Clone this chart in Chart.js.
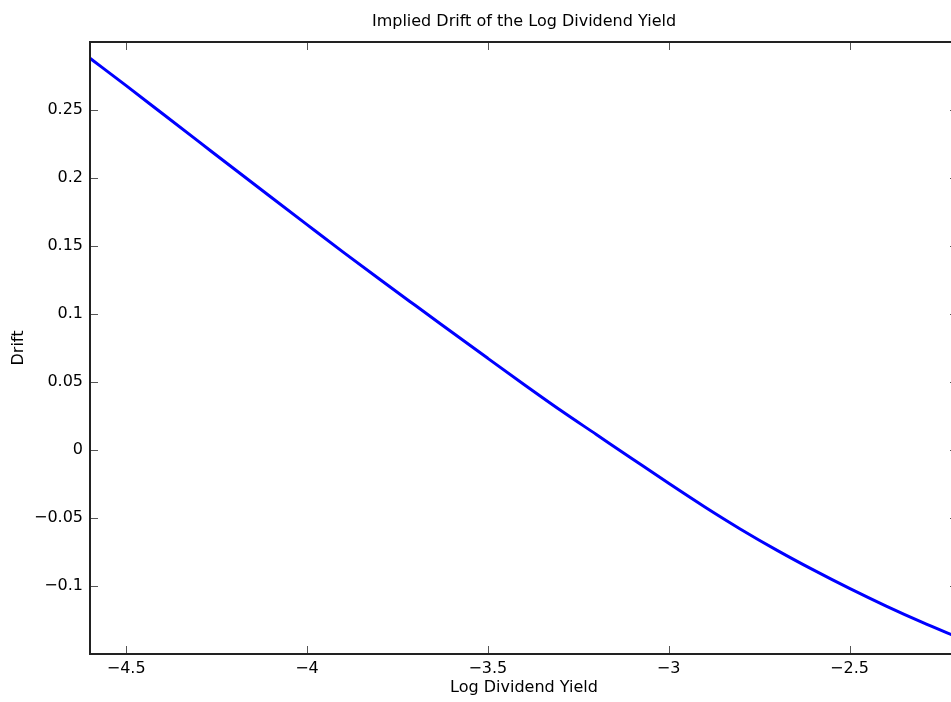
<!DOCTYPE html>
<html>
<head>
<meta charset="utf-8">
<script src="https://cdn.jsdelivr.net/npm/chart.js@4.4.1/dist/chart.umd.min.js"></script>
<style>
  html, body { margin: 0; padding: 0; background: #fff; overflow: hidden; }
  #wrap { width: 1048px; height: 702px; }
</style>
</head>
<body>
<div id="wrap"><canvas id="driftChart"></canvas></div>
<script>
// log dividend yield (x) and implied drift (y)
const xValues = [-4.6, -4.5, -4.4, -4.3, -4.2, -4.1, -4.0, -3.9, -3.8, -3.7, -3.6, -3.5, -3.4,
                 -3.3, -3.2, -3.1, -3.0, -2.9, -2.8, -2.7, -2.6, -2.5, -2.4, -2.3, -2.2];
const driftValues = [0.2880, 0.2679, 0.2474, 0.2269, 0.2064, 0.1860, 0.1657, 0.1455, 0.1257, 0.1062, 0.0868,
                     0.0674, 0.0482, 0.0294, 0.0114, -0.0066, -0.0245, -0.0419, -0.0584, -0.0738, -0.0882,
                     -0.1018, -0.1146, -0.1266, -0.1378];
const xTicks = [-4.5, -4, -3.5, -3, -2.5];
const yTicks = [-0.1, -0.05, 0, 0.05, 0.1, 0.15, 0.2, 0.25];

const FONT = { family: "'DejaVu Sans', 'Liberation Sans', sans-serif", size: 16 };

function fmt(v) {
    var s = String(Math.round(v * 100) / 100);
    return s.replace('-', '\u2212');
}

// matlab style box with inward tick marks
const matlabBox = {
    id: 'matlabBox',
    afterDatasetsDraw: function (chart) {
        var c = chart.ctx, a = chart.chartArea;
        var xs = chart.scales.x, ys = chart.scales.y;
        c.save();
        c.strokeStyle = '#555';
        c.lineWidth = 1;
        c.beginPath();
        xTicks.forEach(function (v) {
            var px = Math.round(xs.getPixelForValue(v)) + 0.5;
            c.moveTo(px, a.bottom); c.lineTo(px, a.bottom - 8);
            c.moveTo(px, a.top); c.lineTo(px, a.top + 8);
        });
        yTicks.forEach(function (v) {
            var py = Math.round(ys.getPixelForValue(v)) + 0.5;
            c.moveTo(a.left, py); c.lineTo(a.left + 8, py);
            c.moveTo(a.right, py); c.lineTo(a.right - 8, py);
        });
        c.stroke();
        c.strokeStyle = '#222';
        c.lineWidth = 2;
        c.strokeRect(a.left, a.top, a.right - a.left, a.bottom - a.top);
        c.restore();
    }
};

document.addEventListener('DOMContentLoaded', function () {
    var ctx = document.getElementById('driftChart').getContext('2d');
    new Chart(ctx, {
        type: 'line',
        data: {
            datasets: [{
                data: xValues.map(function (x, i) { return { x: x, y: driftValues[i] }; }),
                borderColor: '#0000ff',
                borderWidth: 3,
                pointRadius: 0,
                fill: false,
                cubicInterpolationMode: 'monotone'
            }]
        },
        options: {
            responsive: true,
            maintainAspectRatio: false,
            animation: false,
            layout: { padding: 0 },
            plugins: {
                legend: { display: false },
                tooltip: { enabled: false },
                title: {
                    display: true,
                    text: 'Implied Drift of the Log Dividend Yield',
                    color: '#000',
                    font: { family: FONT.family, size: 16, weight: 'normal' },
                    padding: { top: 12, bottom: 10.8 }
                }
            },
            scales: {
                x: {
                    type: 'linear',
                    min: -4.6,
                    max: -2.2,
                    grid: { display: false, drawTicks: false },
                    border: { display: false },
                    afterBuildTicks: function (s) { s.ticks = xTicks.map(function (v) { return { value: v }; }); },
                    afterFit: function (s) { s.height = 48; },
                    ticks: { color: '#000', font: FONT, padding: 5, maxRotation: 0, callback: fmt },
                    title: { display: true, text: 'Log Dividend Yield', color: '#000', font: FONT, padding: { top: 0, bottom: 5 } }
                },
                y: {
                    type: 'linear',
                    min: -0.15,
                    max: 0.3,
                    grid: { display: false, drawTicks: false },
                    border: { display: false },
                    afterBuildTicks: function (s) { s.ticks = yTicks.map(function (v) { return { value: v }; }); },
                    afterFit: function (s) { s.width = 90; },
                    ticks: { color: '#000', font: FONT, padding: 7, callback: fmt },
                    title: { display: true, text: 'Drift', color: '#000', font: FONT, padding: { top: 9, bottom: 0 } }
                },
                // empty right axis so the box runs past the window edge like the original
                y2: {
                    type: 'linear',
                    position: 'right',
                    display: true,
                    grid: { display: false, drawTicks: false },
                    border: { display: false },
                    ticks: { display: false },
                    afterFit: function (s) { s.width = 90; }
                }
            }
        },
        plugins: [matlabBox]
    });
});
</script>
</body>
</html>
